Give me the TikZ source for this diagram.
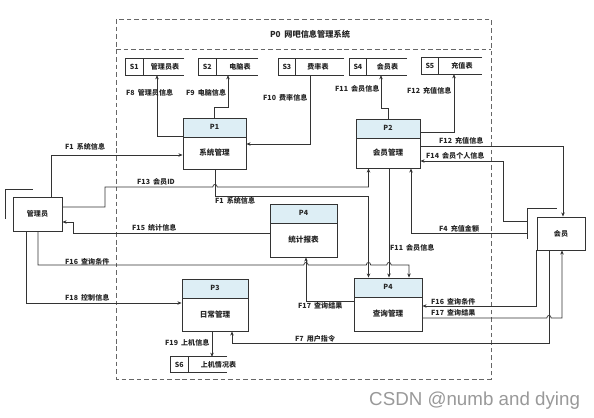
\documentclass[tikz,border=0pt]{standalone}
\usepackage{fontspec}
\setmainfont{Liberation Sans}
\newfontfamily\cjk{Noto Sans CJK SC}
\usetikzlibrary{arrows.meta,calc}
\definecolor{lc}{HTML}{333333}
\definecolor{hdr}{HTML}{DDEEF5}
\definecolor{dc}{HTML}{666666}
\newcommand\gp{\hspace{0.45em}}
\tikzset{
  lbl/.style={font=\cjk\fontsize{6}{7}\selectfont\bfseries, inner sep=0, anchor=west, text=black!85},
  ttl/.style={font=\cjk\fontsize{7}{8}\selectfont\bfseries, inner sep=0, text=black!85},
  ptxt/.style={font=\cjk\fontsize{6}{7}\selectfont\bfseries, inner sep=0, text=black!85},
  btxt/.style={font=\cjk\fontsize{6.5}{7.5}\selectfont\bfseries, inner sep=0, text=black!85},
  flow/.style={draw=lc, line width=0.6pt, -{Stealth[length=3.5pt,width=3pt]}},
  plain/.style={draw=lc, line width=0.6pt},
  outer/.style={draw=dc, line width=0.8pt, dash pattern=on 4pt off 2.5pt},
  procsh/.style={draw=lc, line width=0.8pt, fill=white, inner sep=0,
    path picture={\fill[hdr] (path picture bounding box.north west) rectangle ([yshift=-0.57cm]path picture bounding box.north east);
      \draw[lc, line width=0.8pt] ([yshift=-0.57cm]path picture bounding box.north west) -- ([yshift=-0.57cm]path picture bounding box.north east);}},
  ent/.style={draw=lc, line width=0.8pt, fill=white, inner sep=0, font=\cjk\fontsize{6}{7}\selectfont\bfseries, text=black!85},
  stsh/.style={inner sep=0},
}
\newcommand\procbox[7]{%
  \node[procsh, minimum width=#4, minimum height=#5] (#1) at (#2,#3) {};
  \node[ptxt] (#1t) at ($(#1.north)+(0,9.5)$) {#6};
  \node[btxt] (#1b) at ($(#1.center)+(0,9.5)$) {#7};
}
\newcommand\storebox[9]{%
  \node[stsh, minimum width=#4, minimum height=#5] (#1) at (#2,#3) {};
  \draw[lc, line width=0.8pt] (#1.north east) -- (#1.north west) -- (#1.south west) -- (#1.south east);
  \draw[lc, line width=0.8pt] (#6,0 |- #1.north) -- (#6,0 |- #1.south);
  \node[ptxt] (#1i) at ($(#1.west)!0.5!(#6,0 |- #1.west)$) {#7};
  \node[ptxt] (#1n) at (#9,0 |- #1.center) {#8};
}
\begin{document}
\begin{tikzpicture}[x=0.03cm,y=-0.03cm]
\useasboundingbox[fill=white] (0,0) rectangle (594,417);

% system boundary
\draw[outer] (116,19) rectangle (491,379);
\draw[outer] (116,49) -- (491,49);
\node[ttl] (p0) at (310,34) {P0\gp 网吧信息管理系统};

% data stores
\storebox{s1}{155}{67}{1.74cm}{0.48cm}{143}{S1}{管理员表}{165}
\storebox{s2}{228.5}{67}{1.77cm}{0.48cm}{216}{S2}{电脑表}{240}
\storebox{s3}{311.5}{67}{1.95cm}{0.48cm}{295}{S3}{费率表}{318}
\storebox{s4}{378.5}{67}{1.71cm}{0.48cm}{366}{S4}{会员表}{387.5}
\storebox{s5}{452}{66}{1.80cm}{0.48cm}{438}{S5}{充值表}{462}
\storebox{s6}{199}{364.5}{1.68cm}{0.45cm}{188}{S6}{上机情况表}{218.5}

% processes
\procbox{p1}{214.5}{143.5}{1.89cm}{1.53cm}{P1}{系统管理}
\procbox{p2}{388}{143.5}{1.92cm}{1.47cm}{P2}{会员管理}
\procbox{ps}{303.5}{230.5}{2.01cm}{1.59cm}{P4}{统计报表}
\procbox{p3}{215}{305}{1.98cm}{1.56cm}{P3}{日常管理}
\procbox{pq}{388}{304.5}{2.04cm}{1.59cm}{P4}{查询管理}

% external entities
\node[ent, minimum width=1.47cm, minimum height=1.02cm] (adm) at (37.5,214) {管理员};
\node[ent, minimum width=1.44cm, minimum height=0.99cm] (mem) at (561,233.5) {会员};
\draw[plain] ($(adm.north west)+(-7,22)$) -- ($(adm.north west)+(-7,-7)$) -- ($(adm.north west)+(20,-7)$);
\coordinate (memd) at ($(mem.north west)+(-9,-8)$);
\draw[plain] ($(memd)+(29,0)$) -- (memd) -- ($(memd)+(0,30)$);
\coordinate (f14s) at ($(memd)+(0,13)$);
\coordinate (f4s) at ($(memd)+(0,25)$);

% flows to stores
\draw[flow] (p1.west |- 0,136) -| (157,0 |- s1.south);
\node[lbl] (l8) at (126,93) {F8\gp 管理员信息};
\draw[flow] (214,0 |- p1.north) -- (214,107) -| (228,0 |- s2.south);
\node[lbl] (l9) at (186,93) {F9\gp 电脑信息};
\draw[flow] (310,0 |- s3.south) |- (p1.east |- 0,144);
\node[lbl] (l10) at (263,98) {F10\gp 费率信息};
\draw[flow] (388,0 |- p2.north) -- (388,108) -| (381,0 |- s4.south);
\node[lbl] (l11a) at (335,89) {F11\gp 会员信息};
\draw[flow] (p2.east |- 0,132) -| (454,0 |- s5.south);
\node[lbl] (l12a) at (407,91) {F12\gp 充值信息};

% P2 <-> member
\draw[flow] (p2.east |- 0,146) -| (563,0 |- mem.north);
\node[lbl] (l12b) at (439,141) {F12\gp 充值信息};
\draw[flow] (f14s) -- (503,0 |- f14s) |- (p2.east |- 0,161);
\node[lbl] (l14) at (426,156) {F14\gp 会员个人信息};
\draw[flow] (f4s) -| (411,0 |- p2.south);
\node[lbl] (l4) at (439,229) {F4\gp 充值金额};

% administrator flows
\draw[flow] (51,0 |- adm.north) |- (p1.west |- 0,155);
\node[lbl] (l1a) at (65,147) {F1\gp 系统信息};
\draw[flow] (adm.east |- 0,207) -- (105,207) -- (105,187) -- (212.8,187) .. controls (212.8,183.6) and (217.2,183.6) .. (217.2,187) -| (368.5,0 |- p2.south);
\node[lbl] (l13) at (137,182) {F13\gp 会员ID};
\draw[flow] (215,0 |- p1.south) -- (215,196) -| (368.5,0 |- pq.north);
\node[lbl] (l1b) at (215,201) {F1\gp 系统信息};
\draw[flow] (389,0 |- p2.south) -- (389,0 |- pq.north);
\node[lbl] (l11b) at (390,248) {F11\gp 会员信息};
\draw[flow] (ps.west |- 0,233) -| (73,222) -- (adm.east |- 0,222);
\node[lbl] (l15) at (132,228) {F15\gp 统计信息};
\draw[flow] (38,0 |- adm.south) -- (38,265) -- (303.8,265) .. controls (303.8,261.6) and (308.2,261.6) .. (308.2,265)
  -- (366.3,265) .. controls (366.3,261.6) and (370.7,261.6) .. (370.7,265)
  -- (386.8,265) .. controls (386.8,261.6) and (391.2,261.6) .. (391.2,265) -| (409,0 |- pq.north);
\node[lbl] (l16a) at (65,262) {F16\gp 查询条件};
\draw[flow] (pq.west |- 0,301) -| (306,0 |- ps.south);
\node[lbl] (l17a) at (298,306) {F17\gp 查询结果};
\draw[flow] (26,0 |- adm.south) |- (p3.west |- 0,303);
\node[lbl] (l18) at (65,298) {F18\gp 控制信息};
\draw[flow] (212,0 |- p3.south) -- (212,0 |- s6.north);
\node[lbl] (l19) at (165,343) {F19\gp 上机信息};

% member flows
\draw[flow] (549,0 |- mem.south) |- (232,343) -- (232,0 |- p3.south);
\node[lbl] (l7) at (295,339) {F7\gp 用户指令};
\draw[flow] (mem.south west) |- (pq.east |- 0,306);
\node[lbl] (l16b) at (431,302) {F16\gp 查询条件};
\draw[flow] (pq.east |- 0,318) -- (546.8,318) .. controls (546.8,314.6) and (551.2,314.6) .. (551.2,318) -| (562,0 |- mem.south);
\node[lbl] (l17b) at (431,313) {F17\gp 查询结果};

% watermark
\node[anchor=base west, inner sep=0, text=black!40, font=\fontsize{16}{18}\selectfont] (wm) at (369,405.5) {CSDN @numb and dying};
\end{tikzpicture}
\end{document}
